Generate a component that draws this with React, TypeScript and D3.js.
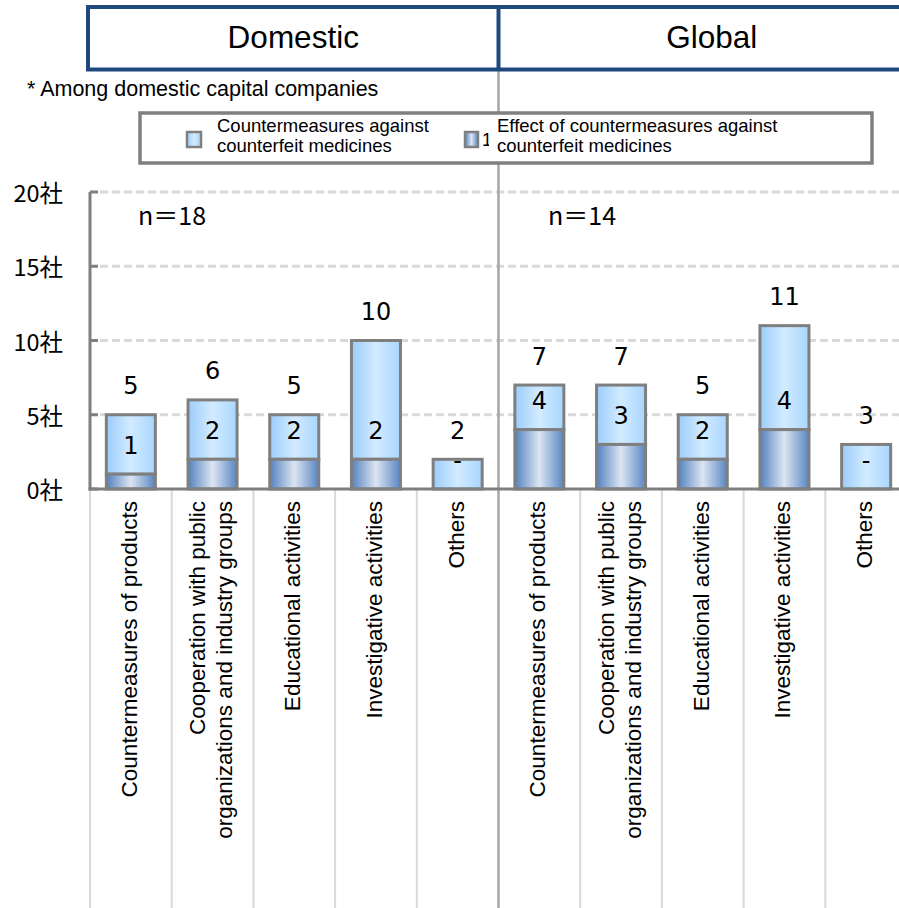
import React from "react";
import * as d3 from "d3";

const categoryLines: string[][] = [
  ["Countermeasures of products"],
  ["Cooperation with public", "organizations and industry groups"],
  ["Educational activities"],
  ["Investigative activities"],
  ["Others"],
];
const groupNames = ["Domestic", "Global"];
const groupN = ["n＝18", "n＝14"];
const domesticTotal = [5, 6, 5, 10, 2];
const domesticEffect = [1, 2, 2, 2, 0];
const globalTotal = [7, 7, 5, 11, 3];
const globalEffect = [4, 3, 2, 4, 0];
const yTicks = [0, 5, 10, 15, 20];
const tickSuffix = "社";
const noteText = "* Among domestic capital companies";
const legendLabels: string[][] = [
  ["Countermeasures against", "counterfeit medicines"],
  ["Effect of countermeasures against", "counterfeit medicines"],
];

const W = 899;
const H = 908;
const GRAY = "#7f7f7f";
const GRID = "#d9d9d9";
const NAVY = "#1F497D";

type Rec = { idx: number; cat: number; group: number; total: number; effect: number };

export default function App() {
  const records: Rec[] = [];
  [domesticTotal, globalTotal].forEach((totals, g) => {
    const eff = g === 0 ? domesticEffect : globalEffect;
    totals.forEach((t, i) =>
      records.push({ idx: g * 5 + i, cat: i, group: g, total: t, effect: eff[i] })
    );
  });

  const x = d3
    .scaleBand<number>()
    .domain(d3.range(records.length))
    .range([90, 907])
    .padding(0);
  const y = d3.scaleLinear().domain([0, 20]).range([489, 192]);
  const bw = x.bandwidth() * 0.6;
  const cx = (i: number) => (x(i) as number) + x.bandwidth() / 2;
  const dividerX = x(5) as number;
  const groupCenters = [(88 + dividerX) / 2, (dividerX + 925) / 2];

  return (
    <svg
      width={W}
      height={H}
      style={{ position: "absolute", left: 0, top: 0, background: "#fff" }}
      fontFamily="'Liberation Sans', Arial, sans-serif"
    >
      <defs>
        <linearGradient id="lightG" x1="0" x2="1" y1="0" y2="0">
          <stop offset="0" stopColor="#9ccdfb" />
          <stop offset="0.5" stopColor="#d2ebff" />
          <stop offset="1" stopColor="#a8d6ff" />
        </linearGradient>
        <linearGradient id="darkG" x1="0" x2="1" y1="0" y2="0">
          <stop offset="0" stopColor="#5282bf" />
          <stop offset="0.5" stopColor="#dce5f1" />
          <stop offset="1" stopColor="#5786c3" />
        </linearGradient>
        <clipPath id="oneClip">
          <rect x={480} y={120} width={9} height={40} />
        </clipPath>
      </defs>
      <rect x={0} y={0} width={W} height={H} fill="#fff" />

      {/* gridlines */}
      {yTicks
        .filter((t) => t > 0)
        .map((t) => (
          <line
            key={"g" + t}
            x1={100}
            x2={W}
            y1={y(t)}
            y2={y(t)}
            stroke={GRID}
            strokeWidth={3}
            strokeDasharray="8,4"
          />
        ))}

      {/* category separators below axis */}
      {records.map((r) =>
        r.idx === 5 ? null : (
          <line
            key={"s" + r.idx}
            x1={x(r.idx) as number}
            x2={x(r.idx) as number}
            y1={y(0)}
            y2={H}
            stroke={GRID}
            strokeWidth={2}
          />
        )
      )}

      {/* bars */}
      {records.map((r) => (
        <g key={"b" + r.idx}>
          <rect
            x={cx(r.idx) - bw / 2}
            y={y(r.total)}
            width={bw}
            height={y(r.effect) - y(r.total)}
            fill="url(#lightG)"
            stroke={GRAY}
            strokeWidth={3}
          />
          {r.effect > 0 && (
            <rect
              x={cx(r.idx) - bw / 2}
              y={y(r.effect)}
              width={bw}
              height={y(0) - y(r.effect)}
              fill="url(#darkG)"
              stroke={GRAY}
              strokeWidth={3}
            />
          )}
        </g>
      ))}

      {/* divider */}
      <line x1={dividerX} x2={dividerX} y1={70} y2={H} stroke="#a6a6a6" strokeWidth={2.5} />

      {/* axes */}
      <line x1={90} x2={90} y1={y(20)} y2={y(0) + 1.5} stroke={GRAY} strokeWidth={3} />
      {yTicks.map((t) => (
        <line key={"t" + t} x1={90} x2={98} y1={y(t)} y2={y(t)} stroke={GRAY} strokeWidth={3} />
      ))}
      <line x1={88.5} x2={W} y1={y(0)} y2={y(0)} stroke={GRAY} strokeWidth={3} />
      {yTicks.map((t) => (
        <text
          key={"tl" + t}
          x={63}
          y={y(t)}
          textAnchor="end"
          dominantBaseline="central"
          fontFamily="'Noto Sans CJK JP', sans-serif"
          fontSize={23.5}
          fill="#000"
        >
          {t + tickSuffix}
        </text>
      ))}

      {/* header box */}
      <rect x={88} y={7} width={850} height={62.5} fill="#fff" stroke={NAVY} strokeWidth={4} />
      <line x1={dividerX} x2={dividerX} y1={7} y2={69.5} stroke={NAVY} strokeWidth={4} />
      {groupNames.map((g, i) => (
        <text key={g} x={groupCenters[i]} y={48} textAnchor="middle" fontSize={31.5} fill="#000">
          {g}
        </text>
      ))}

      {/* note */}
      <text x={27} y={96} fontSize={21.5} fill="#000">
        {noteText}
      </text>

      {/* legend */}
      <rect x={140} y={113} width={732} height={50} fill="#fff" stroke={GRAY} strokeWidth={3.5} />
      <rect x={187} y={132} width={14} height={15} fill="url(#lightG)" stroke={GRAY} strokeWidth={2.5} />
      <rect x={465} y={132} width={13} height={15} fill="url(#darkG)" stroke={GRAY} strokeWidth={2.5} />
      <text x={482} y={146} fontSize={18} fill="#000" clipPath="url(#oneClip)">
        1
      </text>
      {legendLabels.map((lines, i) => (
        <text key={"lg" + i} x={i === 0 ? 217 : 497} y={132} fontSize={18.5} fill="#000">
          {lines.map((l, j) => (
            <tspan key={j} x={i === 0 ? 217 : 497} y={132 + j * 20}>
              {l}
            </tspan>
          ))}
        </text>
      ))}

      {/* n labels */}
      {groupN.map((n, i) => (
        <text
          key={n}
          x={i === 0 ? 138 : 548}
          y={225}
          fontFamily="'Noto Sans CJK JP', sans-serif"
          fontSize={25}
          fill="#000"
        >
          {n}
        </text>
      ))}

      {/* value labels */}
      {records.map((r) => (
        <g key={"v" + r.idx} fontFamily="'DejaVu Sans', sans-serif" fontSize={24} fill="#000">
          <text x={cx(r.idx)} y={y(r.total) - 20.5} textAnchor="middle">
            {r.total}
          </text>
          <text x={cx(r.idx)} y={y(r.effect) - 20.5} textAnchor="middle">
            {r.effect > 0 ? r.effect : "-"}
          </text>
        </g>
      ))}

      {/* category labels */}
      {records.map((r) => {
        const lines = categoryLines[r.cat];
        return (
          <g key={"c" + r.idx}>
            {lines.map((l, j) => {
              const bx = cx(r.idx) + 6 + (j - (lines.length - 1) / 2) * 27;
              return (
                <text
                  key={j}
                  transform={`translate(${bx},501) rotate(-90)`}
                  textAnchor="end"
                  fontSize={22.5}
                  fill="#000"
                >
                  {l}
                </text>
              );
            })}
          </g>
        );
      })}
    </svg>
  );
}
